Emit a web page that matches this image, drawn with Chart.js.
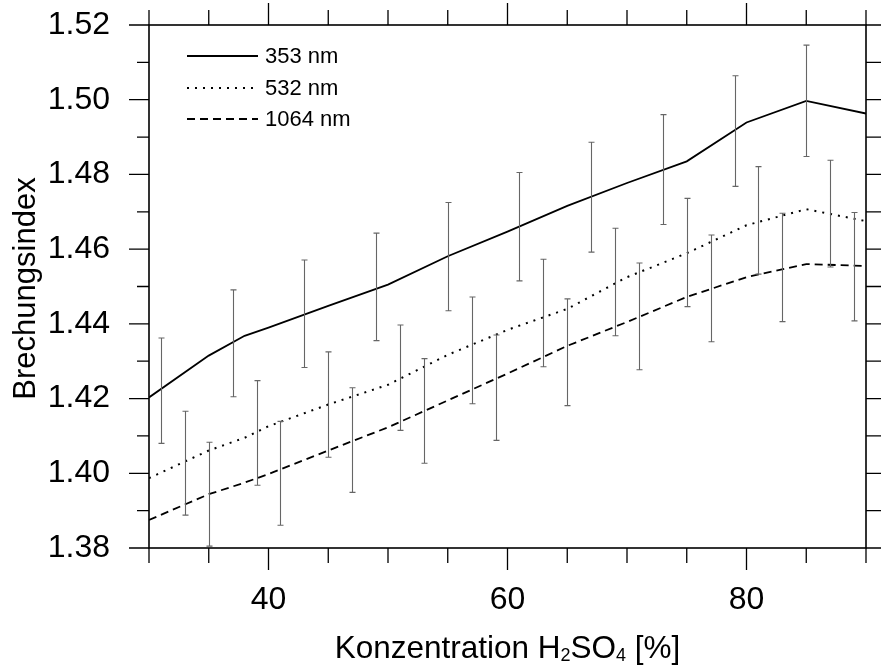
<!DOCTYPE html>
<html lang="de">
<head>
<meta charset="utf-8">
<title>Brechungsindex vs. H2SO4-Konzentration</title>
<script src="https://cdn.jsdelivr.net/npm/chart.js@4/dist/chart.umd.min.js"></script>
<style>
  html, body { margin: 0; padding: 0; background: #fff; }
  #wrap { width: 881px; height: 670px; }
</style>
</head>
<body>
<div id="wrap"><canvas id="chart" width="881" height="670"></canvas></div>
<script>
// ── Daten ───────────────────────────────────────────────────────────────────
const konz  = [30, 35, 38, 40, 45, 50, 55, 60, 65, 70, 75, 80, 85, 90];
const n353  = [1.4203, 1.4315, 1.4368, 1.4390, 1.4448, 1.4505, 1.4581, 1.4647, 1.4716, 1.4777, 1.4835, 1.4939, 1.4997, 1.4963];
const n532  = [1.3987, 1.4061, 1.4095, 1.4126, 1.4184, 1.4237, 1.4317, 1.4384, 1.4440, 1.4525, 1.4589, 1.4664, 1.4707, 1.4675];
const n1064 = [1.3875, 1.3944, 1.3975, 1.3998, 1.4061, 1.4123, 1.4195, 1.4267, 1.4341, 1.4405, 1.4472, 1.4525, 1.4560, 1.4555];

// Fehlerbalken: Position, Mitte, halbe Länge
const fbKonz353  = [31, 37, 43, 49, 55, 61, 67, 73, 79, 85];
const fbMitte353 = [1.4221, 1.4348, 1.4427, 1.4499, 1.4580, 1.4660, 1.4739, 1.4813, 1.4916, 1.4997];
const fbHalb353  = [0.0141, 0.0143, 0.0144, 0.0144, 0.0145, 0.0145, 0.0147, 0.0147, 0.0148, 0.0149];

const fbKonz532  = [33, 39, 45, 51, 57, 63, 69, 75, 81, 87];
const fbMitte532 = [1.4027, 1.4108, 1.4184, 1.4256, 1.4329, 1.4429, 1.4512, 1.4591, 1.4677, 1.4695];
const fbHalb532  = [0.0139, 0.0140, 0.0141, 0.0141, 0.0143, 0.0144, 0.0144, 0.0145, 0.0144, 0.0143];

const fbKonz1064  = [35, 41, 47, 53, 59, 65, 71, 77, 83, 89];
const fbMitte1064 = [1.3944, 1.4000, 1.4089, 1.4167, 1.4229, 1.4324, 1.4420, 1.4495, 1.4551, 1.4553];
const fbHalb1064  = [0.0139, 0.0139, 0.0140, 0.0140, 0.0141, 0.0143, 0.0143, 0.0143, 0.0145, 0.0145];

const serienNamen = ['353 nm', '532 nm', '1064 nm'];
const xTickLabels = [40, 60, 80];
const yTickLabels = [1.38, 1.40, 1.42, 1.44, 1.46, 1.48, 1.50, 1.52];

const FONT = "'Liberation Sans', Arial, Helvetica, sans-serif";

const punkte = werte => konz.map((k, i) => ({ x: k, y: werte[i] }));

const stile = [
  { borderWidth: 1.8, borderDash: [] },
  { borderWidth: 2.0, borderDash: [2, 6] },
  { borderWidth: 1.8, borderDash: [8, 5] }
];

const fehlerbalken = [
  [fbKonz353, fbMitte353, fbHalb353],
  [fbKonz532, fbMitte532, fbHalb532],
  [fbKonz1064, fbMitte1064, fbHalb1064]
];

// ── Fehlerbalken ────────────────────────────────────────────────────────────
const fehlerPlugin = {
  id: 'fehler',
  afterDatasetsDraw(chart) {
    const { ctx, scales: { x, y } } = chart;
    ctx.save();
    ctx.strokeStyle = '#666';
    ctx.lineWidth = 1.1;
    ctx.beginPath();
    fehlerbalken.forEach(([ks, ms, hs]) => {
      ks.forEach((k, i) => {
        const px = Math.round(x.getPixelForValue(k)) + 0.5;
        const oben = y.getPixelForValue(ms[i] + hs[i]);
        const unten = Math.min(y.getPixelForValue(ms[i] - hs[i]), chart.chartArea.bottom);
        ctx.moveTo(px, oben); ctx.lineTo(px, unten);
        ctx.moveTo(px - 3, oben); ctx.lineTo(px + 3, oben);
        if (unten < chart.chartArea.bottom) { ctx.moveTo(px - 3, unten); ctx.lineTo(px + 3, unten); }
      });
    });
    ctx.stroke();
    ctx.restore();
  }
};

// ── Rahmen, Ticks, Achsentitel, Legende ─────────────────────────────────────
const rahmenPlugin = {
  id: 'rahmen',
  afterDraw(chart) {
    const { ctx, chartArea: a, scales: { x, y } } = chart;
    ctx.save();
    ctx.strokeStyle = '#000';
    ctx.lineWidth = 1.6;
    ctx.strokeRect(a.left, a.top, a.right - a.left, a.bottom - a.top);

    ctx.lineWidth = 1.3;
    ctx.beginPath();
    x.ticks.forEach(t => {
      const px = x.getPixelForValue(t.value);
      const len = xTickLabels.includes(t.value) ? 22 : 15;
      ctx.moveTo(px, a.bottom); ctx.lineTo(px, a.bottom + len);
      ctx.moveTo(px, a.top); ctx.lineTo(px, a.top - len);
    });
    y.ticks.forEach(t => {
      const py = y.getPixelForValue(t.value);
      const major = Math.round(t.value * 100) % 2 === 0;
      ctx.moveTo(a.left, py); ctx.lineTo(a.left - (major ? 20 : 12), py);
      ctx.moveTo(a.right, py); ctx.lineTo(a.right + 15, py);
    });
    ctx.stroke();

    ctx.fillStyle = '#000';

    // y-Titel
    ctx.save();
    ctx.translate(35, (a.top + a.bottom) / 2 + 2);
    ctx.rotate(-Math.PI / 2);
    ctx.font = `31px ${FONT}`;
    ctx.textAlign = 'center';
    ctx.textBaseline = 'alphabetic';
    ctx.fillText('Brechungsindex', 0, 0);
    ctx.restore();

    // x-Titel mit Tiefstellung
    const teile = [['Konzentration H', 31.5, 0], ['2', 18, 3], ['SO', 31.5, 0], ['4', 18, 3], [' [%]', 31.5, 0]];
    let breite = 0;
    teile.forEach(([txt, gr]) => { ctx.font = `${gr}px ${FONT}`; breite += ctx.measureText(txt).width; });
    let tx = (a.left + a.right) / 2 - breite / 2;
    ctx.textAlign = 'left';
    ctx.textBaseline = 'alphabetic';
    teile.forEach(([txt, gr, dy]) => {
      ctx.font = `${gr}px ${FONT}`;
      ctx.fillText(txt, tx, 658 + dy);
      tx += ctx.measureText(txt).width;
    });

    // Legende
    ctx.font = `22px ${FONT}`;
    ctx.textBaseline = 'middle';
    const zeilen = [56, 88, 119];
    chart.data.datasets.forEach((ds, i) => {
      ctx.strokeStyle = '#000';
      ctx.lineWidth = ds.borderWidth;
      ctx.setLineDash(ds.borderDash || []);
      ctx.beginPath();
      ctx.moveTo(187, zeilen[i]); ctx.lineTo(258, zeilen[i]);
      ctx.stroke();
      ctx.setLineDash([]);
      ctx.fillText(ds.label, 265, zeilen[i] + 1);
    });
    ctx.restore();
  }
};

// ── Diagramm ────────────────────────────────────────────────────────────────
new Chart(document.getElementById('chart'), {
  type: 'line',
  data: {
    datasets: [n353, n532, n1064].map((werte, i) => ({
      label: serienNamen[i],
      data: punkte(werte),
      borderColor: '#000',
      borderWidth: stile[i].borderWidth,
      borderDash: stile[i].borderDash,
      pointRadius: 0,
      tension: 0,
      fill: false
    }))
  },
  options: {
    responsive: false,
    animation: false,
    layout: { padding: { top: 25, right: 15, left: 0, bottom: 0 } },
    plugins: { legend: { display: false }, tooltip: { enabled: false } },
    scales: {
      x: {
        type: 'linear',
        min: 30, max: 90,
        grid: { display: false },
        border: { display: false },
        afterFit: s => { s.height = 122; s.paddingLeft = 0; s.paddingRight = 0; },
        ticks: {
          stepSize: 5,
          autoSkip: false,
          maxRotation: 0,
          padding: 25,
          color: '#000',
          font: { family: FONT, size: 32 },
          callback: v => xTickLabels.includes(v) ? String(v) : ''
        }
      },
      y: {
        min: 1.38, max: 1.52,
        grid: { display: false },
        border: { display: false },
        afterFit: s => { s.width = 149; s.paddingTop = 0; s.paddingBottom = 0; },
        ticks: {
          stepSize: 0.01,
          autoSkip: false,
          padding: 31,
          color: '#000',
          font: { family: FONT, size: 32 },
          callback: v => {
            const t = yTickLabels.find(l => Math.abs(l - v) < 1e-6);
            return t !== undefined ? t.toFixed(2) : '';
          }
        }
      }
    }
  },
  plugins: [fehlerPlugin, rahmenPlugin]
});
</script>
</body>
</html>
